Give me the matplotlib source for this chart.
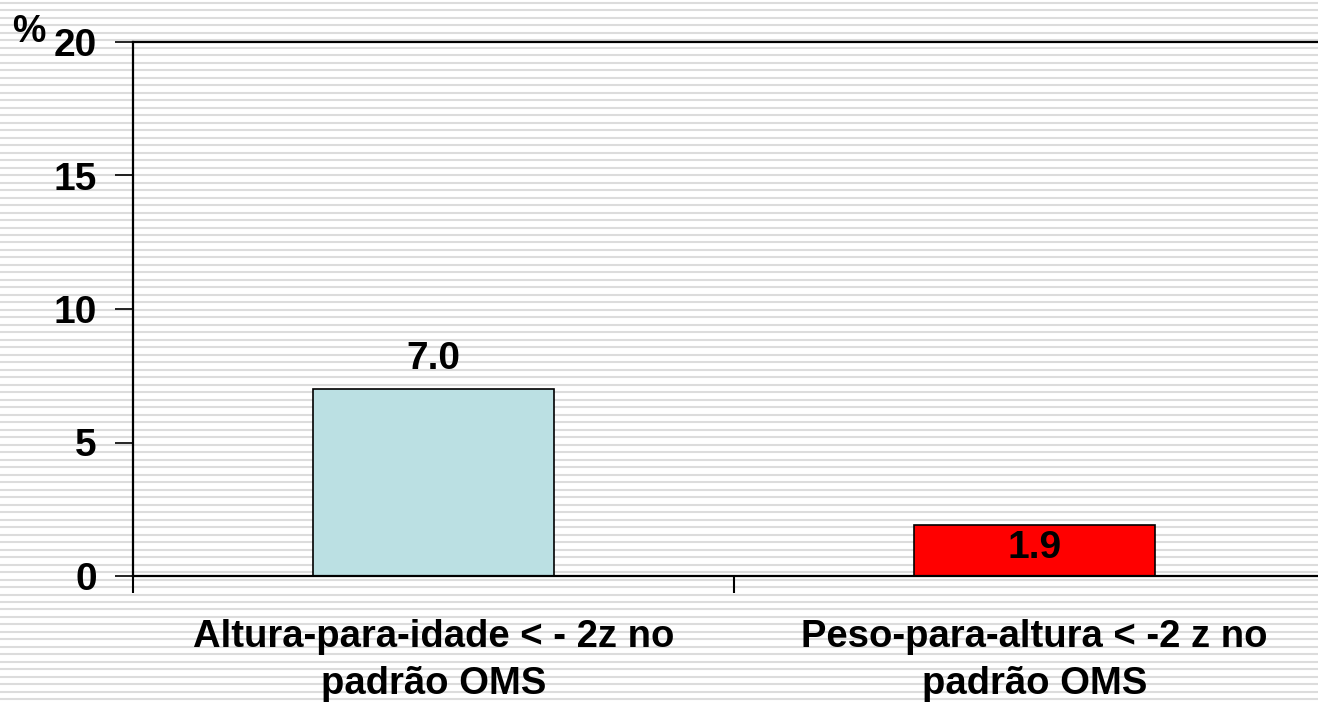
import numpy as np
import matplotlib
matplotlib.use("Agg")
import matplotlib.pyplot as plt

categories = ["Altura-para-idade < - 2z no\npadrão OMS",
              "Peso-para-altura < -2 z no\npadrão OMS"]
values = [7.0, 1.9]
bar_colors = ["#BBE0E3", "#FF0000"]
y_ticks = [0, 5, 10, 15, 20]

plt.rcParams["font.family"] = ["Liberation Sans", "DejaVu Sans"]
plt.rcParams["font.weight"] = "bold"

fig = plt.figure(figsize=(13.18, 7.04), dpi=100)

# striped background
bg = fig.add_axes([0, 0, 1, 1], zorder=-1)
bg.set_xlim(0, 1318)
bg.set_ylim(704, 0)
bg.hlines(np.arange(2.8, 704, 7.49), 0, 1318, color="#dcdcdc", linewidth=1.5)
bg.axis("off")

ax = fig.add_axes([133 / 1318, 128 / 704, 1202 / 1318, 534 / 704])
ax.patch.set_visible(False)

x = np.arange(len(categories))
bars = ax.bar(x, values, width=0.4, color=bar_colors, edgecolor="black", linewidth=1.2)

ax.set_xlim(-0.5, 1.5)
ax.set_ylim(0, 20)
ax.set_yticks(y_ticks)
ax.set_yticklabels([str(v) for v in y_ticks], fontsize=28, fontweight="bold")
ax.tick_params(axis="y", length=13, width=1.2, pad=13, direction="out")

ax.set_xticks(x)
ax.set_xticklabels(categories, fontsize=27.5, fontweight="bold", linespacing=1.4)
ax.tick_params(axis="x", which="major", length=0, pad=31)
ax.set_xticks([-0.5, 0.5, 1.5], minor=True)
ax.tick_params(axis="x", which="minor", length=12, width=1.5, direction="out")

for side in ["top", "left", "bottom"]:
    ax.spines[side].set_linewidth(1.6)
ax.spines["right"].set_visible(False)

# value labels
ax.annotate(f"{values[0]:.1f}", (x[0], values[0]), xytext=(0, 9), textcoords="offset points",
            ha="center", va="bottom", fontsize=28, fontweight="bold")
ax.text(x[1], values[1] / 2 + 0.08, f"{values[1]:.1f}", ha="center", va="center",
        fontsize=28, fontweight="bold")

fig.text(29 / 1318, 1 - 42 / 704, "%", ha="center", va="baseline", fontsize=27, fontweight="bold")

fig.savefig("out.png", dpi=100)
